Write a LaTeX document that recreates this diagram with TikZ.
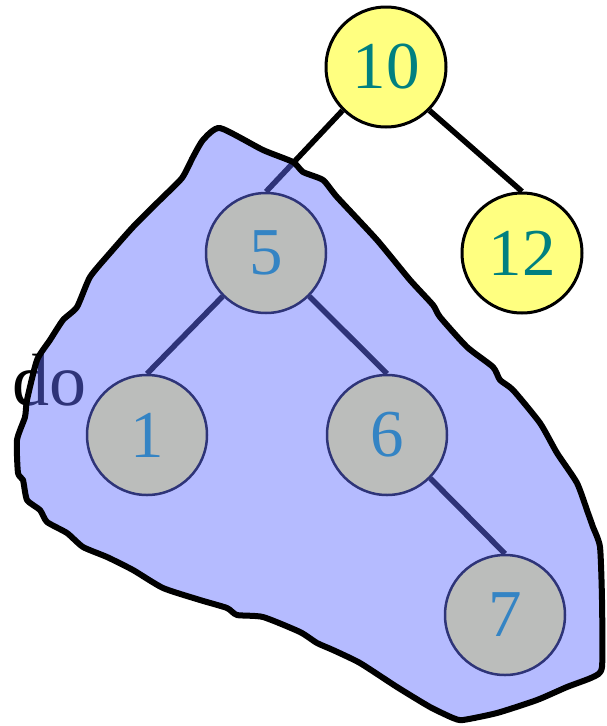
\documentclass[tikz,border=0pt]{standalone}
\usepackage{fontspec}
\setmainfont{Liberation Serif}
\definecolor{blobfill}{RGB}{98,110,255}
\definecolor{ylw}{RGB}{255,255,128}
\definecolor{teal2}{RGB}{0,128,128}
\definecolor{gry}{RGB}{187,189,187}
\definecolor{gryborder}{RGB}{46,52,120}
\definecolor{digblue}{RGB}{52,132,196}
\tikzset{
  ynode/.style={circle, minimum size=120pt, inner sep=0pt, fill=ylw, draw=black, line width=3pt, text=teal2, font=\fontsize{67}{67}\selectfont},
  gnode/.style={circle, minimum size=120pt, inner sep=0pt, fill=gry, draw=gryborder, line width=2.5pt, text=digblue, font=\fontsize{67}{67}\selectfont},
  edge/.style={line width=5.5pt, black},
  blob/.style={fill=blobfill, fill opacity=0.47, draw=black, draw opacity=1, line width=6pt, line join=round},
}
\begin{document}
\begin{tikzpicture}[x=1pt,y=-1pt]
\useasboundingbox (0,0) rectangle (607,726);
\coordinate (c10) at (386,67);
\coordinate (c12) at (522,253);
\coordinate (c5) at (266,253);
\coordinate (c1) at (147,435);
\coordinate (c6) at (387,435);
\coordinate (c7) at (505,615);
\node[ynode, draw=none, fill=none, text opacity=0] (n10) at (c10) {10};
\node[ynode, draw=none, fill=none, text opacity=0] (n12) at (c12) {12};
\node[gnode, draw=none, fill=none, text opacity=0] (n5) at (c5) {5};
\node[gnode, draw=none, fill=none, text opacity=0] (n1) at (c1) {1};
\node[gnode, draw=none, fill=none, text opacity=0] (n6) at (c6) {6};
\node[gnode, draw=none, fill=none, text opacity=0] (n7) at (c7) {7};
% edges
\draw[edge] (n10.south west) -- (n5.north);
\draw[edge] (n10.south east) -- (n12.north);
\draw[edge] (n5.south west) -- (n1.north);
\draw[edge] (n5.south east) -- (n6.north);
\draw[edge] (n6.south east) -- (n7.north);
% label
\node[anchor=base west, inner sep=0pt, font=\fontsize{74}{74}\selectfont] (do) at (12,405) {do};
% blob
\draw[blob] plot[smooth cycle, tension=0.35] coordinates {
(220,128) (263,150) (293,162) (303,172) (323,180) (337,197) (377,240)
(410,280) (433,305) (440,317) (467,347) (493,367) (500,380) (513,390)
(540,423) (557,453) (577,483) (588,513) (593,527) (600,547) (602,600)
(602,667) (593,677) (567,687) (537,700) (497,713) (463,720) (453,718)
(430,707) (397,687) (360,663) (333,650) (317,643) (300,632) (263,617)
(237,615) (227,608) (200,600) (163,588) (133,570) (107,557) (83,547)
(67,533) (47,522) (40,510) (27,500) (23,480) (18,473) (17,440) (25,417)
(27,400) (37,360) (50,340) (63,320) (77,307) (90,277) (110,253) (133,227)
(160,200) (182,178) (193,157) (203,140)};
% nodes on top
\node[ynode] (m10) at (n10) {10};
\node[ynode] (m12) at (n12) {12};
\node[gnode] (m5) at (n5) {5};
\node[gnode] (m1) at (n1) {1};
\node[gnode] (m6) at (n6) {6};
\node[gnode] (m7) at (n7) {7};
\end{tikzpicture}
\end{document}
